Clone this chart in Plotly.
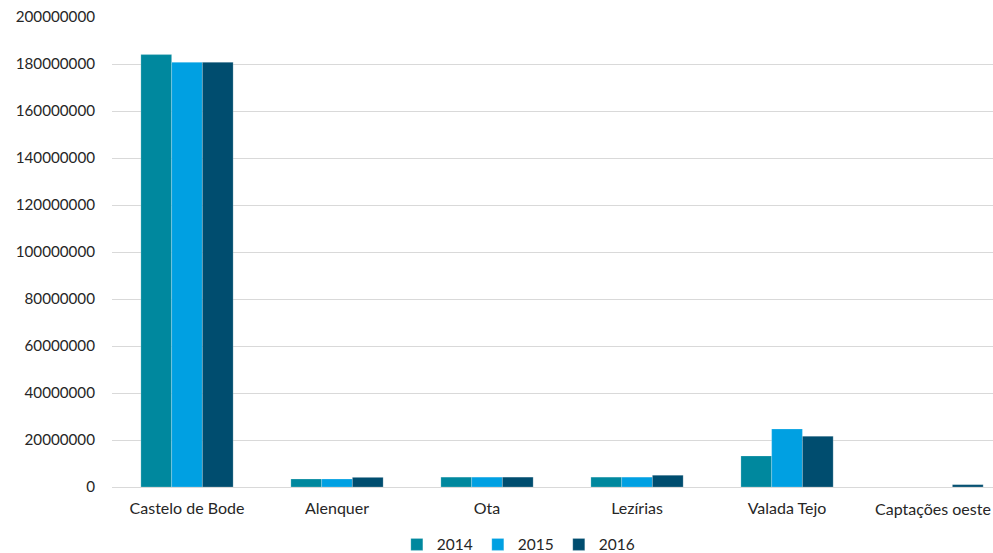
import plotly.graph_objects as go

categories = ["Castelo de Bode", "Alenquer", "Ota", "Lezírias", "Valada Tejo", "Captações oeste"]
years = ["2014", "2015", "2016"]
v2014 = [184000000, 3400000, 4200000, 4200000, 13200000, 0]
v2015 = [180700000, 3400000, 4200000, 4200000, 24700000, 0]
v2016 = [180700000, 4100000, 4200000, 5000000, 21600000, 1000000]
colors = ["#00889E", "#00A0E2", "#004D6F"]
y_ticks = [0, 20000000, 40000000, 60000000, 80000000, 100000000, 120000000, 140000000, 160000000, 180000000, 200000000]

fig = go.Figure()
for name, vals, col in zip(years, [v2014, v2015, v2016], colors):
    fig.add_trace(go.Bar(x=list(range(len(categories))), y=vals, name=name,
                         marker=dict(color=col, line=dict(color="rgba(255,255,255,0.35)", width=0.6))))

# last category label sits at the right edge of the page; draw it right-aligned so it stays whole
ticktext = categories[:-1] + [""]
fig.add_annotation(text=categories[-1], xref="paper", x=1.0, xanchor="right",
                   yref="paper", y=-0.045, yanchor="middle", showarrow=False,
                   font=dict(size=16, color="#262626"))

fig.update_layout(
    width=993, height=553,
    margin=dict(l=112, r=0, t=17, b=66, autoexpand=False),
    paper_bgcolor="white", plot_bgcolor="white",
    barmode="group", bargap=0.385, bargroupgap=0,
    font=dict(family="Lato, 'Open Sans', sans-serif", size=15, color="#262626"),
    showlegend=True,
    legend=dict(orientation="h", x=0.522, xanchor="center", xref="container",
                y=-0.123, yanchor="middle", yref="paper",
                font=dict(size=15.5, color="#262626"), itemwidth=30, traceorder="normal"),
    xaxis=dict(tickmode="array", tickvals=list(range(len(categories))), ticktext=ticktext,
               range=[-0.5, 5.373], showgrid=False, showline=False, zeroline=False,
               ticks="", ticklen=0, tickfont=dict(size=16), ticklabelstandoff=10),
    yaxis=dict(range=[0, 200000000], tickmode="array", tickvals=y_ticks,
               ticktext=[str(t) for t in y_ticks], tickfont=dict(size=15.2),
               showgrid=True, gridcolor="#D9D9D9", gridwidth=1.3,
               zeroline=True, zerolinecolor="#D9D9D9", zerolinewidth=1.3,
               showline=False, ticks="", ticklabelstandoff=16),
)

fig.write_html("out.html")
